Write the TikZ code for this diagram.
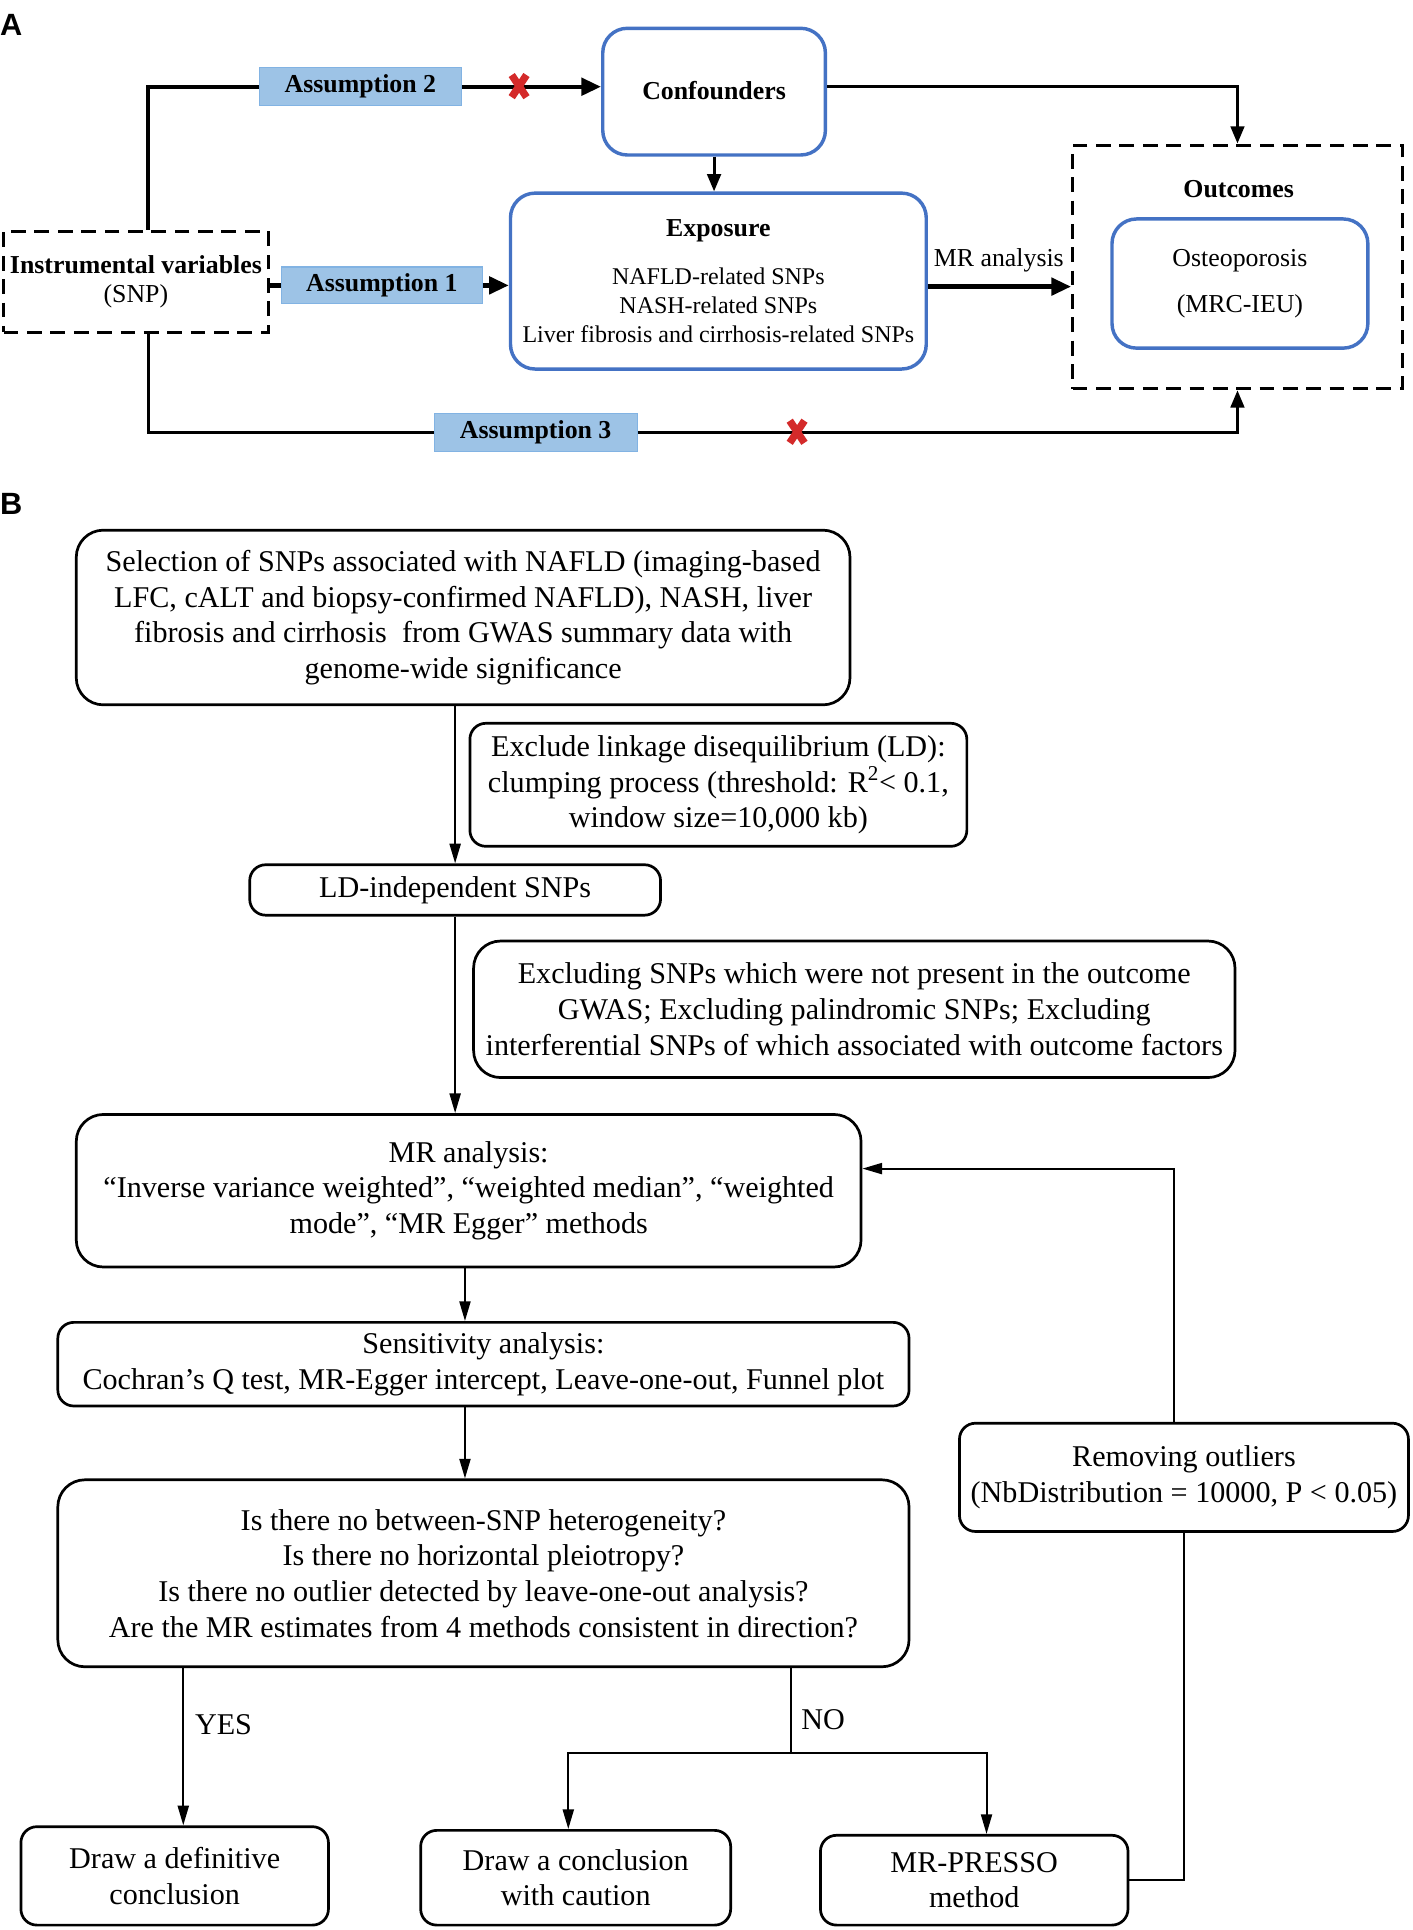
\documentclass[tikz,border=0pt]{standalone}
\usepackage{fontspec}
\setmainfont{Liberation Serif}
\newfontfamily\labfont{Liberation Sans}
\usetikzlibrary{arrows.meta,calc}
\definecolor{boxblue}{HTML}{4472C4}
\definecolor{asfill}{HTML}{9DC3E6}
\definecolor{asdraw}{HTML}{82B3E3}
\definecolor{xred}{HTML}{D42A2A}
\tikzset{
 fa/.style={font=\fontsize{21}{24}\selectfont},
 fb/.style={font=\fontsize{24.5}{29}\selectfont},
 bluebox/.style={draw=boxblue, line width=2.8pt, rounded corners=20pt, inner sep=0pt, align=center, fa},
 dashbox/.style={draw=black, line width=2.6pt, dash pattern=on 12pt off 7pt, inner sep=0pt, align=center, fa},
 asbox/.style={draw=asdraw, fill=asfill, line width=1pt, inner sep=0pt, font=\fontsize{21}{24}\selectfont\bfseries},
 thickarr/.style={line width=3.6pt, -{Triangle[length=16pt,width=14pt]}},
 thickln/.style={line width=3.6pt},
 medarr/.style={line width=2.4pt, -{Triangle[length=14pt,width=11pt]}},
 medln/.style={line width=2.4pt},
 flowbox/.style={draw=black, line width=2.2pt, rounded corners=22pt, inner sep=0pt, align=center, fb},
 smallbox/.style={flowbox, rounded corners=13pt},
 farr/.style={line width=1.6pt, -{Triangle[length=16pt,width=9pt]}},
 fln/.style={line width=1.6pt},
 redx/.style={xred, line width=6pt},
 panellab/.style={anchor=west, inner sep=0pt, font=\labfont\bfseries\fontsize{25}{26}\selectfont},
}
\begin{document}
\begin{tikzpicture}[x=1pt,y=-1pt]
\fill[white] (0,0) rectangle (1148,1569);
\useasboundingbox (0,0) rectangle (1148,1569);

% ---------- Panel A ----------
\node[panellab] (labA) at (0,20) {A};

\node[bluebox, minimum width=181pt, minimum height=103pt, font=\fontsize{21}{24}\selectfont\bfseries] (conf) at (580.5,74.5) {\raisebox{2pt}{Confounders}};
\node[bluebox, minimum width=338pt, minimum height=143pt, font=\fontsize{19.5}{23.5}\selectfont] (expo) at (584,228.5)
 {{\fontsize{21}{24}\selectfont\bfseries Exposure}\\[15pt]NAFLD-related SNPs\\NASH-related SNPs\\Liver fibrosis and cirrhosis-related SNPs};
\node[dashbox, minimum width=268pt, minimum height=198pt] (outc) at (1006,217) {};
\node[fa, font=\fontsize{21}{24}\selectfont\bfseries] (outt) at (1007,154) {Outcomes};
\node[bluebox, minimum width=208pt, minimum height=105pt] (osteo) at (1008,230.5) {Osteoporosis\\[13pt](MRC-IEU)};
\node[dashbox, minimum width=215pt, minimum height=82pt] (iv) at (110.5,229) {\textbf{Instrumental variables}\\(SNP)};
\node[asbox, minimum width=163pt, minimum height=30pt] (as1) at (310.5,232) {Assumption 1};
\node[asbox, minimum width=164pt, minimum height=31pt] (as2) at (293,70.5) {Assumption 2};
\node[asbox, minimum width=165pt, minimum height=31pt] (as3) at (435.5,351.5) {Assumption 3};

% connectors A
\draw[thickln] ([xshift=10pt]iv.north) |- (as2.west);
\draw[thickarr] (as2.east) -- (as2.east -| conf.west);
\draw[thickln] (iv.east |- as1.west) -- (as1.west);
\draw[thickarr] (as1.east) -- (as1.east -| expo.west);
\draw[medarr] (conf.south) -- (conf.south |- expo.north);
\draw[medarr] ([yshift=4pt]conf.east) -| (outc.north);
\draw[thickarr] ([yshift=-4.5pt]expo.east) -- ([yshift=-4.5pt]expo.east -| outc.west);
\node[fa, anchor=south] (mrl) at (812,225) {MR analysis};
\draw[medln] ([xshift=10pt]iv.south) |- (as3.west);
\draw[medarr] (as3.east) -| (outc.south);

% red crosses
\coordinate (xa) at (422,70);
\coordinate (xb) at (648,351);
\foreach \c in {xa,xb}{
  \draw[redx] ($(\c)+(-6,-9)$) -- ($(\c)+(6,9)$);
  \draw[redx] ($(\c)+(6,-9)$) -- ($(\c)+(-6,9)$);
}

% ---------- Panel B ----------
\node[panellab] (labB) at (0,410) {B};

\node[flowbox, minimum width=629pt, minimum height=142pt] (b1) at (376.5,502)
 {Selection of SNPs associated with NAFLD (imaging-based\\LFC, cALT and biopsy-confirmed NAFLD), NASH, liver\\fibrosis and cirrhosis\ \ from GWAS summary data with\\genome-wide significance};
\node[smallbox, minimum width=404pt, minimum height=100pt] (b2) at (584,638)
 {Exclude linkage disequilibrium (LD):\\clumping process (threshold: R\textsuperscript{2}< 0.1,\\window size=10,000 kb)};
\node[smallbox, minimum width=334pt, minimum height=41pt] (b3) at (370,723.5) {LD-independent SNPs};
\node[flowbox, minimum width=619pt, minimum height=111pt] (b4) at (694.5,820.5)
 {Excluding SNPs which were not present in the outcome\\GWAS; Excluding palindromic SNPs; Excluding\\interferential SNPs of which associated with outcome factors};
\node[flowbox, minimum width=638pt, minimum height=124pt] (b5) at (381,968)
 {MR analysis:\\“Inverse variance weighted”, “weighted median”, “weighted\\mode”, “MR Egger” methods};
\node[smallbox, minimum width=692pt, minimum height=68pt] (b6) at (393,1109)
 {Sensitivity analysis:\\Cochran’s Q test, MR-Egger intercept, Leave-one-out, Funnel plot};
\node[flowbox, minimum width=692pt, minimum height=152pt] (b7) at (393,1279)
 {Is there no between-SNP heterogeneity?\\Is there no horizontal pleiotropy?\\Is there no outlier detected by leave-one-out analysis?\\Are the MR estimates from 4 methods consistent in direction?};
\node[smallbox, minimum width=250pt, minimum height=80pt] (b8) at (142,1525) {Draw a definitive\\conclusion};
\node[smallbox, minimum width=252pt, minimum height=77pt] (b9) at (468,1526.5) {Draw a conclusion\\with caution};
\node[smallbox, minimum width=250pt, minimum height=73pt] (b10) at (792,1528.5) {MR-PRESSO\\method};
\node[smallbox, minimum width=365pt, minimum height=88pt] (b11) at (962.5,1201) {Removing outliers\\(NbDistribution = 10000, P < 0.05)};

% connectors B
\draw[farr] (b1.south -| b3.north) -- (b3.north);
\draw[farr] (b3.south) -- (b3.south |- b5.north);
\draw[farr] ([xshift=-3pt]b5.south) -- ([xshift=-3pt]b5.south |- b6.north);
\draw[farr] ([xshift=-15pt]b6.south) -- ([xshift=-15pt]b7.north);
\draw[farr] ([xshift=7pt]b8.north |- b7.south) -- ([xshift=7pt]b8.north);
\node[fb, anchor=west] (yes) at (155,1402) {YES};
\coordinate (nob) at (643,1425);
\draw[fln] (nob |- b7.south) -- (nob);
\node[fb, anchor=west] (no) at (648,1398) {NO};
\draw[farr] (nob) -| ([xshift=-6pt]b9.north);
\draw[farr] (nob) -| ([xshift=10pt]b10.north);
\draw[fln] (b10.east) -| (b11.south);
\draw[farr] ([xshift=-8pt]b11.north) |- ([yshift=18pt]b5.east);
\end{tikzpicture}
\end{document}
